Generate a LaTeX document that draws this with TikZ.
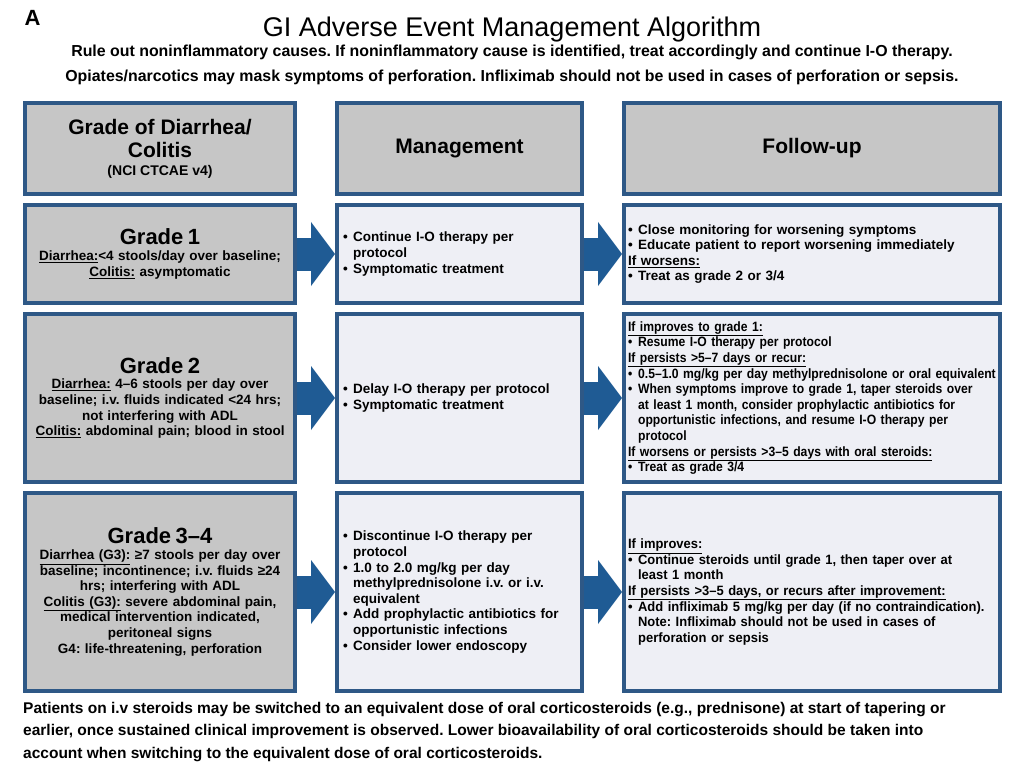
\documentclass[tikz,border=0pt]{standalone}
\usepackage{fontspec}
\setmainfont{Liberation Sans}
\newfontfamily\narrowsans{Liberation Sans}[FakeStretch=0.9]
\newfontfamily\semisans{Liberation Sans}[FakeStretch=0.96]
\usetikzlibrary{positioning, arrows.meta}
\definecolor{boxline}{RGB}{46,88,134}
\definecolor{arrowblue}{RGB}{31,91,148}
\definecolor{gradegray}{RGB}{198,198,198}
\definecolor{panel}{RGB}{238,239,245}
\frenchspacing
\newcommand{\bodytext}{\bfseries\fontsize{13.5}{15.6}\selectfont\hyphenpenalty=10000\exhyphenpenalty=10000}
\newcommand{\gradetitle}{\fontsize{22}{23}\selectfont}
\newcommand{\bul}{\makebox[0.75em][l]{•}}
\newcommand{\contline}{\hspace*{0.75em}}
\begin{document}
\begin{tikzpicture}[
     node distance = 7pt and 38pt,
       colbox/.style = {rectangle, draw=boxline, line width=4pt, inner xsep=6pt, inner ysep=3pt},
      headbox/.style = {colbox, fill=gradegray, minimum height=91pt, align=center, font=\bfseries\fontsize{21}{23}\selectfont},
     gradebox/.style = {colbox, fill=gradegray, text width=258pt, align=center, font=\bodytext},
      mgmtbox/.style = {colbox, fill=panel, text width=233pt, align=left, font=\bodytext},
       fupbox/.style = {colbox, fill=panel, inner xsep=4pt, text width=368pt, align=left, font=\bodytext},
     bigarrow/.style = {draw=arrowblue, line width=33pt, -{Triangle[width=64pt, length=24pt, line width=0pt]}}
                        ]
\useasboundingbox (0,0) rectangle (1024pt,-767pt);
\node (panelA) [anchor=base west, font=\bfseries\fontsize{22}{24}\selectfont] at (21pt,-26pt) {A};
\node (title) [anchor=base, font=\fontsize{27}{30}\selectfont] at (512pt,-37pt) {GI Adverse Event Management Algorithm};
\node (rule) [below=-5pt of title, align=center, font=\bfseries\fontsize{15.9}{25}\selectfont]
  {Rule out noninflammatory causes. If noninflammatory cause is identified, treat accordingly and continue I-O therapy.\\
   Opiates/narcotics may mask symptoms of perforation. Infliximab should not be used in cases of perforation or sepsis.};

\node (hgrade) [headbox, minimum width=270pt, anchor=north west] at (23pt,-101pt)
  {Grade of Diarrhea/\\ Colitis\\[-5pt] {\fontsize{14}{16}\selectfont (NCI CTCAE v4)}};
\node (hmgmt)  [headbox, minimum width=245pt, right=of hgrade] {Management};
\node (hfup)   [headbox, minimum width=376pt, right=of hmgmt] {Follow-up};

\node (g1) [gradebox, minimum height=98pt, below=of hgrade]
  {{\gradetitle Grade 1}\\
   \underline{Diarrhea:}<4 stools/day over baseline;\\
   \underline{Colitis:} asymptomatic};
\node (m1) [mgmtbox, minimum height=98pt, below=of hmgmt]
  {\bul Continue I-O therapy per\\ \contline protocol\\
   \bul Symptomatic treatment};
\node (f1) [fupbox, minimum height=98pt, below=of hfup]
  {\bul Close monitoring for worsening symptoms\\
   \bul Educate patient to report worsening immediately\\
   \underline{If worsens:}\\
   \bul Treat as grade 2 or 3/4};

\node (g2) [gradebox, minimum height=168pt, below=of g1]
  {{\gradetitle Grade 2}\\
   \underline{Diarrhea:} 4–6 stools per day over\\
   baseline; i.v. fluids indicated <24 hrs;\\
   not interfering with ADL\\
   \underline{Colitis:} abdominal pain; blood in stool};
\node (m2) [mgmtbox, minimum height=168pt, below=of m1]
  {\bul Delay I-O therapy per protocol\\
   \bul Symptomatic treatment};
\node (f2) [fupbox, minimum height=168pt, below=of f1, font=\narrowsans\bodytext]
  {\underline{If improves to grade 1:}\\
   \bul Resume I-O therapy per protocol\\
   \underline{If persists >5–7 days or recur:}\\
   \bul 0.5–1.0 mg/kg per day methylprednisolone or oral equivalent\\
   \bul When symptoms improve to grade 1, taper steroids over\\
   \contline at least 1 month, consider prophylactic antibiotics for\\
   \contline opportunistic infections, and resume I-O therapy per\\
   \contline protocol\\
   \underline{If worsens or persists >3–5 days with oral steroids:}\\
   \bul Treat as grade 3/4};

\node (g3) [gradebox, minimum height=198pt, below=of g2]
  {{\gradetitle Grade 3–4}\\
   \underline{Diarrhea (G3):} ≥7 stools per day over\\
   baseline; incontinence; i.v. fluids ≥24\\
   hrs; interfering with ADL\\
   \underline{Colitis (G3):} severe abdominal pain,\\
   medical intervention indicated,\\
   peritoneal signs\\
   G4: life-threatening, perforation};
\node (m3) [mgmtbox, minimum height=198pt, below=of m2]
  {\bul Discontinue I-O therapy per\\ \contline protocol\\
   \bul 1.0 to 2.0 mg/kg per day\\ \contline methylprednisolone i.v. or i.v.\\ \contline equivalent\\
   \bul Add prophylactic antibiotics for\\ \contline opportunistic infections\\
   \bul Consider lower endoscopy};
\node (f3) [fupbox, minimum height=198pt, below=of f2, font=\semisans\bodytext]
  {\underline{If improves:}\\
   \bul Continue steroids until grade 1, then taper over at\\ \contline least 1 month\\
   \underline{If persists >3–5 days, or recurs after improvement:}\\
   \bul Add infliximab 5 mg/kg per day (if no contraindication).\\
   \contline Note: Infliximab should not be used in cases of\\
   \contline perforation or sepsis};

\draw[bigarrow] (g1) -- (m1);
\draw[bigarrow] (m1) -- (f1);
\draw[bigarrow] (g2) -- (m2);
\draw[bigarrow] (m2) -- (f2);
\draw[bigarrow] (g3) -- (m3);
\draw[bigarrow] (m3) -- (f3);

\node (note) [below=9pt of g3.south west, anchor=north west, align=left, inner sep=0pt, font=\bfseries\fontsize{15.5}{22.5}\selectfont]
  {Patients on i.v steroids may be switched to an equivalent dose of oral corticosteroids (e.g., prednisone) at start of tapering or\\
   earlier, once sustained clinical improvement is observed. Lower bioavailability of oral corticosteroids should be taken into\\
   account when switching to the equivalent dose of oral corticosteroids.};
\end{tikzpicture}
\end{document}
